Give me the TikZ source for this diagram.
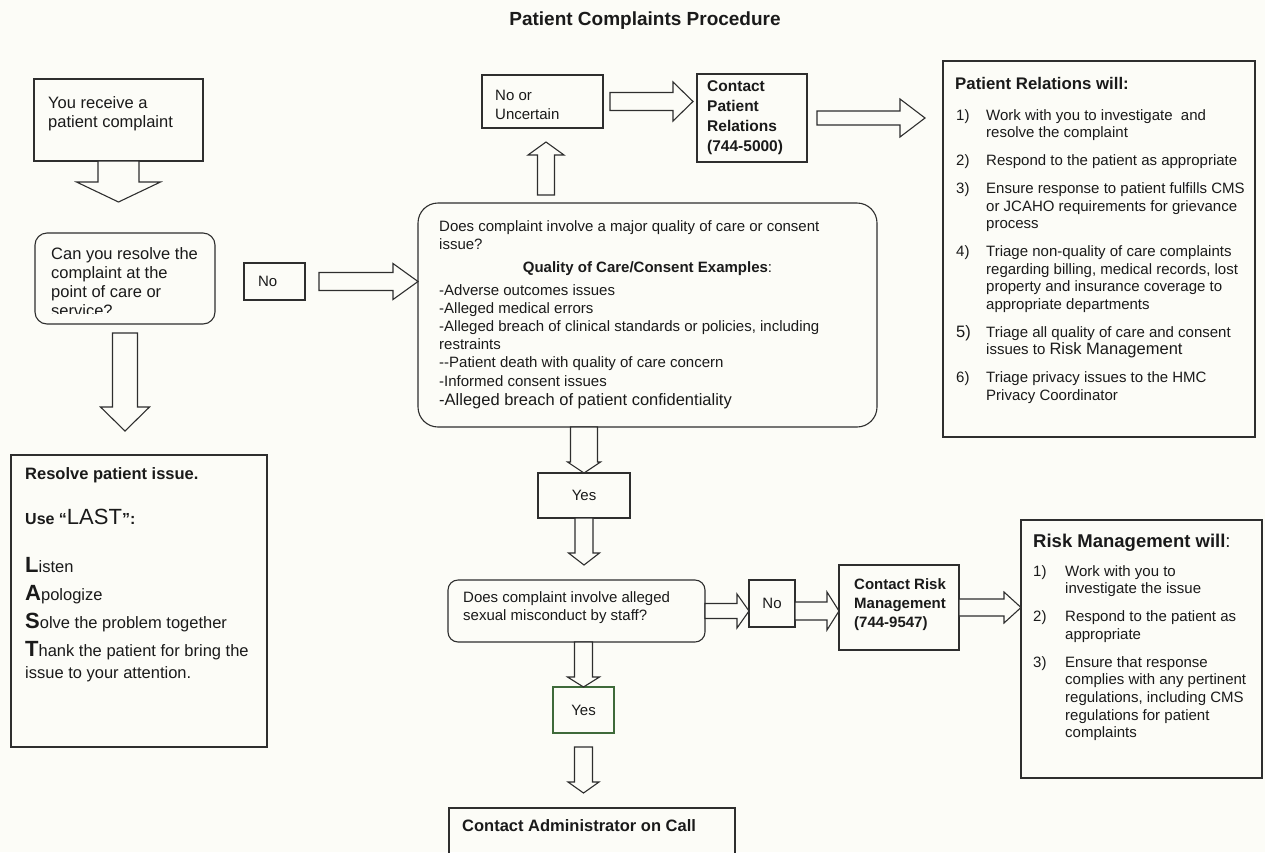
\documentclass[tikz,border=0pt]{standalone}
\usepackage{fontspec}
\setmainfont{Liberation Sans}
\usepackage{tikz}
\usetikzlibrary{positioning,calc}
\definecolor{cPaper}{HTML}{FCFCF7}
\definecolor{cLine}{HTML}{2E2E2E}
\definecolor{cText}{HTML}{1A1A1A}
\definecolor{cGreen}{HTML}{3E6A3A}
\newcommand{\fsz}[2]{\fontsize{#1pt}{#2pt}\selectfont}
\newcommand{\itm}[2][30pt]{\makebox[#1][l]{#2}}
\newcommand{\itmind}[1][30pt]{\hspace*{#1}}
\newcommand{\lastini}[1]{{\bfseries\fsz{22}{22}#1}}
% hollow block arrow: start, tip, half shaft, half head, head length
\newcommand{\blkarrow}[5]{%
  \draw[blockarr] let \p1=#1, \p2=#2,
      \n1={veclen(\x2-\x1,\y2-\y1)}, \n2={atan2(\y2-\y1,\x2-\x1)} in
    [shift={(\p1)},rotate=\n2]
    (0pt,#3) -- ({\n1*1pt-#5},#3) -- ({\n1*1pt-#5},#4) -- ({\n1*1pt},0pt)
    -- ({\n1*1pt-#5},-#4) -- ({\n1*1pt-#5},-#3) -- (0pt,-#3) -- cycle;}

\begin{document}
\begin{tikzpicture}[x=1pt,y=-1pt,font=\fsz{15}{18},text=cText,
    box/.style={draw=cLine,line width=1.1pt,inner sep=0pt,outer sep=0pt,anchor=north west},
    rbox/.style={box,rounded corners=#1},
    txt/.style={anchor=north west,align=left,inner sep=0pt},
    lbl/.style={anchor=base west,inner sep=0pt},
    blockarr/.style={draw=cLine,fill=cPaper,line width=1.1pt,line join=miter}]
  \clip (0,0) rectangle (1265,852);
  \fill[cPaper] (0,0) rectangle (1265,852);

  \node[font=\bfseries\fsz{19}{22},anchor=base,inner sep=0pt] (title) at (645,25)
    {Patient Complaints Procedure};

  % left column
  \node[box,minimum width=169pt,minimum height=82pt] (recv) at (34,79) {};
  \node[txt,font=\fsz{16.5}{19}] at ($(recv.north west)+(14,17)$) {You receive a\\patient complaint};
  \node[rbox=12pt,minimum width=180pt,minimum height=91pt] (canq) at (35,233) {};
  \begin{scope}
    \clip ($(canq.north west)+(2,2)$) rectangle ($(canq.south east)+(-2,-11)$);
    \node[txt,font=\fsz{16.5}{19}] at ($(canq.north west)+(16,14)$)
      {Can you resolve the\\complaint at the\\point of care or\\service?};
  \end{scope}
  \node[box,minimum width=61pt,minimum height=37pt,text width=33pt,inner xsep=14pt,align=left] (no1) at (244,263) {No};

  \node[box,minimum width=256pt,minimum height=292pt] (resolve) at (11,455) {};
  \node[lbl,font=\bfseries\fsz{16.5}{19}] at ($(resolve.north west)+(14,24)$) {Resolve patient issue.};
  \node[lbl] at ($(resolve.north west)+(14,69)$)
    {{\bfseries\fsz{16}{19}Use “}{\fsz{22}{24}LAST}{\bfseries\fsz{16}{19}”:}};
  \node[txt,font=\fsz{16.5}{22}] at ($(resolve.north west)+(14,102)$) {%
    \lastini{L}isten\\[6pt]
    \lastini{A}pologize\\[6pt]
    \lastini{S}olve the problem together\\[6pt]
    \lastini{T}hank the patient for bring the\\
    issue to your attention.};

  % middle column
  \node[box,minimum width=121pt,minimum height=53pt] (unc) at (482,75) {};
  \node[txt,font=\fsz{15}{19.3}] at ($(unc.north west)+(13,15)$) {No or\\Uncertain};
  \node[box,minimum width=110pt,minimum height=88pt] (cpr) at (697,74) {};
  \node[txt,font=\bfseries\fsz{15.5}{20}] at ($(cpr.north west)+(10,6.5)$)
    {Contact\\Patient\\Relations\\(744-5000)};
  \node[rbox=20pt,minimum width=459pt,minimum height=224pt] (big) at (418,203) {};
  \node[txt,font=\fsz{15}{18.3}] at ($(big.north west)+(21,17)$)
    {Does complaint involve a major quality of care or consent\\issue?};
  \node[anchor=base,inner sep=0pt] at ($(big.north)+(0,69.7)$)
    {{\bfseries Quality of Care/Consent Examples}:};
  \node[txt,font=\fsz{15}{18.2}] at ($(big.north west)+(21,81.1)$) {%
    -Adverse outcomes issues\\
    -Alleged medical errors\\
    -Alleged breach of clinical standards or policies, including\\
    restraints\\
    -{}-Patient death with quality of care concern\\
    -Informed consent issues\\[1.5pt]
    {\fsz{16.5}{20}-Alleged breach of patient confidentiality}};
  \node[box,minimum width=92pt,minimum height=45pt] (yes1) at (538,473) {Yes};
  \node[rbox=10pt,minimum width=257pt,minimum height=62pt] (sex) at (448,580) {};
  \node[txt,font=\fsz{15}{17.5}] at ($(sex.north west)+(15,11.7)$)
    {Does complaint involve alleged\\sexual misconduct by staff?};
  \node[box,draw=cGreen,minimum width=61pt,minimum height=46pt] (yes2) at (553,687) {Yes};
  \node[box,minimum width=286pt,minimum height=80pt] (admin) at (449,808) {};
  \node[lbl,font=\bfseries\fsz{16.5}{19}] at ($(admin.north west)+(13,23.7)$) {Contact Administrator on Call};
  \node[box,minimum width=46pt,minimum height=47pt] (no2) at (749,580) {No};
  \node[box,minimum width=120pt,minimum height=85pt] (crm) at (839,565) {};
  \node[txt,font=\bfseries\fsz{15}{19}] at ($(crm.north west)+(15,13.3)$)
    {Contact Risk\\Management\\(744-9547)};

  % right column
  \node[box,minimum width=312pt,minimum height=376pt] (prel) at (943,61) {};
  \node[lbl,font=\bfseries\fsz{16.8}{19}] at ($(prel.north west)+(12,28.3)$) {Patient Relations will:};
  \node[txt,font=\fsz{15}{17.5}] at ($(prel.north west)+(13,48)$) {%
    \itm{1)}Work with you to investigate\ \ and\\
    \itmind resolve the complaint\\[10.5pt]
    \itm{2)}Respond to the patient as appropriate\\[10.5pt]
    \itm{3)}Ensure response to patient fulfills CMS\\
    \itmind or JCAHO requirements for grievance\\
    \itmind process\\[10.5pt]
    \itm{4)}Triage non-quality of care complaints\\
    \itmind regarding billing, medical records, lost\\
    \itmind property and insurance coverage to\\
    \itmind appropriate departments\\[10.5pt]
    \itm{\fsz{16.5}{17.5}5)}Triage all quality of care and consent\\
    \itmind issues to {\fsz{16.5}{17.5}Risk Management}\\[10.5pt]
    \itm{6)}Triage privacy issues to the HMC\\
    \itmind Privacy Coordinator};
  \node[box,minimum width=241pt,minimum height=258pt] (risk) at (1021,520) {};
  \node[lbl,font=\fsz{18.5}{20}] at ($(risk.north west)+(12,27.7)$) {{\bfseries Risk Management will}:};
  \node[txt,font=\fsz{15}{17.6}] at ($(risk.north west)+(12,45)$) {%
    \itm[32pt]{1)}Work with you to\\
    \itmind[32pt]investigate the issue\\[10.4pt]
    \itm[32pt]{2)}Respond to the patient as\\
    \itmind[32pt]appropriate\\[10.4pt]
    \itm[32pt]{3)}Ensure that response\\
    \itmind[32pt]complies with any pertinent\\
    \itmind[32pt]regulations, including CMS\\
    \itmind[32pt]regulations for patient\\
    \itmind[32pt]complaints};

  % block arrows
  \blkarrow{(recv.south)}{($(recv.south)+(0,41)$)}{20.5pt}{42pt}{20pt}
  \blkarrow{($(canq.south)+(0,9)$)}{($(canq.south)+(0,107)$)}{12.5pt}{24.5pt}{24pt}
  \blkarrow{($(no1.east)+(14,0)$)}{(big.west |- no1.east)}{9pt}{18pt}{25pt}
  \blkarrow{($(big.north west)+(128,-8)$)}{($(big.north west)+(128,-61)$)}{8.5pt}{18pt}{13pt}
  \blkarrow{($(unc.east)+(7,0)$)}{($(cpr.west |- unc.east)+(-4,0)$)}{9pt}{19.5pt}{20pt}
  \blkarrow{($(cpr.east)+(10,0)$)}{($(cpr.east)+(118,0)$)}{7pt}{19pt}{25pt}
  \blkarrow{(yes1.north |- big.south)}{(yes1.north)}{13.5pt}{16.5pt}{11pt}
  \blkarrow{(yes1.south)}{($(yes1.south |- sex.north)+(0,-15)$)}{9pt}{15.5pt}{12pt}
  \blkarrow{(sex.east)}{(no2.west |- sex.east)}{7.5pt}{17pt}{12pt}
  \blkarrow{(no2.east |- sex.east)}{(crm.west |- sex.east)}{9pt}{19pt}{12pt}
  \blkarrow{(crm.east)}{(risk.west |- crm.east)}{8.5pt}{15.5pt}{17pt}
  \blkarrow{(yes2.north |- sex.south)}{(yes2.north)}{9pt}{16pt}{10pt}
  \blkarrow{($(yes2.south)+(0,14)$)}{($(yes2.south |- admin.north)+(0,-15)$)}{9pt}{15.5pt}{11pt}
\end{tikzpicture}
\end{document}
